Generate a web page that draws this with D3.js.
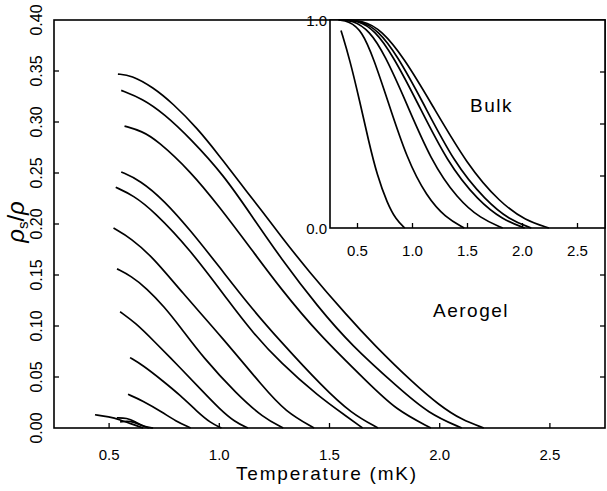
<!DOCTYPE html>
<html>
<head>
<meta charset="utf-8">
<script src="https://cdn.jsdelivr.net/npm/d3@7"></script>
<style>
  body { margin: 0; background: #fff; }
  svg { display: block; font-family: "Liberation Sans", Arial, sans-serif; }
</style>
</head>
<body>
<div id="graph"></div>
<script>
// aerogel curves, [T (mK), rho_s/rho]
const aerogel = [
  [[0.54,0.347],[0.6,0.346],[0.7,0.334],[0.79,0.318],[0.9,0.294],[1.0,0.267],[1.095,0.24],[1.2,0.211],[1.28,0.188],[1.4,0.155],[1.58,0.11],[1.7,0.082],[1.88,0.044],[2.0,0.022],[2.1,0.008],[2.2,0]],
  [[0.555,0.331],[0.65,0.323],[0.75,0.308],[0.868,0.284],[1.02,0.248],[1.15,0.207],[1.277,0.167],[1.45,0.118],[1.6,0.081],[1.81,0.04],[1.95,0.014],[2.1,0]],
  [[0.57,0.296],[0.65,0.291],[0.718,0.282],[0.868,0.252],[1.0,0.217],[1.15,0.174],[1.277,0.137],[1.45,0.092],[1.677,0.044],[1.8,0.018],[1.96,0]],
  [[0.555,0.251],[0.64,0.243],[0.75,0.223],[0.868,0.194],[1.0,0.158],[1.14,0.119],[1.277,0.085],[1.47,0.04],[1.6,0.014],[1.72,0]],
  [[0.53,0.236],[0.61,0.228],[0.7,0.213],[0.868,0.175],[1.05,0.122],[1.15,0.094],[1.277,0.064],[1.45,0.031],[1.58,0.011],[1.65,0]],
  [[0.52,0.196],[0.6,0.186],[0.7,0.167],[0.823,0.135],[1.02,0.087],[1.2,0.04],[1.3,0.016],[1.43,0]],
  [[0.536,0.156],[0.6,0.149],[0.67,0.137],[0.75,0.119],[0.823,0.099],[0.927,0.069],[1.08,0.033],[1.2,0.01],[1.29,0]],
  [[0.55,0.114],[0.62,0.103],[0.7,0.086],[0.823,0.059],[0.92,0.037],[1.0,0.019],[1.07,0.006],[1.13,0]],
  [[0.595,0.069],[0.65,0.062],[0.745,0.046],[0.823,0.032],[0.9,0.016],[0.96,0.005],[1.01,0]],
  [[0.586,0.033],[0.65,0.027],[0.745,0.015],[0.8,0.007],[0.87,0]],
  [[0.436,0.013],[0.5,0.011],[0.55,0.008],[0.6,0.004],[0.655,0]],
  [[0.535,0.01],[0.58,0.01],[0.62,0.006],[0.66,0.001],[0.7,0]],
  [[0.55,0.006],[0.6,0.007],[0.64,0.003],[0.68,0]]
];

// bulk curves for the inset
const bulk = [
  [[0.35,0.95],[0.43,0.81],[0.52,0.61],[0.6,0.42],[0.68,0.25],[0.77,0.12],[0.85,0.04],[0.93,0]],
  [[0.33,1.0],[0.42,0.995],[0.54,0.95],[0.65,0.81],[0.77,0.62],[0.95,0.33],[1.13,0.15],[1.3,0.05],[1.47,0]],
  [[0.33,1.0],[0.45,1.0],[0.61,0.95],[0.75,0.83],[0.93,0.62],[1.17,0.32],[1.41,0.14],[1.62,0.045],[1.82,0]],
  [[0.33,1.0],[0.5,1.0],[0.66,0.95],[0.82,0.83],[1.03,0.62],[1.32,0.31],[1.6,0.13],[1.82,0.04],[2.02,0]],
  [[0.33,1.0],[0.52,1.0],[0.69,0.95],[0.86,0.83],[1.08,0.62],[1.38,0.31],[1.67,0.13],[1.88,0.04],[2.08,0]],
  [[0.33,1.0],[0.55,1.0],[0.72,0.95],[0.92,0.82],[1.17,0.6],[1.5,0.3],[1.8,0.12],[2.03,0.035],[2.24,0]]
];

const xTicks = [0.5, 1.0, 1.5, 2.0, 2.5];
const yTicks = [0.00, 0.05, 0.10, 0.15, 0.20, 0.25, 0.30, 0.35, 0.40];
const insetYLabels = [0.0, 1.0];
const insetYTicks = [0.25, 0.5, 0.75];

const width = 607, height = 491;
const m = {left: 54, right: 605, top: 20, bottom: 428};
const inset = {left: 330, right: 605, top: 20, bottom: 228};

const x = d3.scaleLinear().domain([0.25, 2.75]).range([m.left, m.right]);
const y = d3.scaleLinear().domain([0, 0.40]).range([m.bottom, m.top]);
const xi = d3.scaleLinear().domain([0.25, 2.75]).range([inset.left, inset.right]);
const yi = d3.scaleLinear().domain([0, 1]).range([inset.bottom, inset.top]);

const svg = d3.select("#graph").append("svg")
    .attr("width", width)
    .attr("height", height);

svg.append("rect").attr("width", width).attr("height", height).attr("fill", "#fff");

const line = d3.line()
    .x(d => x(d[0]))
    .y(d => y(d[1]))
    .curve(d3.curveBasis);

svg.append("g")
    .attr("fill", "none")
    .attr("stroke", "#000")
    .attr("stroke-width", 1.7)
    .attr("stroke-linejoin", "round")
    .selectAll("path")
    .data(aerogel)
    .join("path")
    .attr("d", line);

// main frame
svg.append("rect")
    .attr("x", m.left).attr("y", m.top)
    .attr("width", m.right - m.left).attr("height", m.bottom - m.top)
    .attr("fill", "none").attr("stroke", "#000").attr("stroke-width", 1.6);

// inward ticks
svg.append("g").attr("stroke", "#000").attr("stroke-width", 1.3)
    .selectAll("line").data(xTicks).join("line")
    .attr("x1", d => x(d)).attr("x2", d => x(d))
    .attr("y1", m.bottom).attr("y2", m.bottom - 5);

svg.append("g").attr("stroke", "#000").attr("stroke-width", 1.3)
    .selectAll("line").data(yTicks.slice(1, -1)).join("line")
    .attr("x1", m.left).attr("x2", m.left + 5)
    .attr("y1", d => y(d)).attr("y2", d => y(d));

svg.append("g").attr("stroke", "#000").attr("stroke-width", 1.3)
    .selectAll("line").data(yTicks.slice(1, -1)).join("line")
    .attr("x1", m.right).attr("x2", m.right - 5)
    .attr("y1", d => y(d)).attr("y2", d => y(d));

// tick labels
svg.append("g")
    .attr("font-size", 15)
    .attr("text-anchor", "middle")
    .selectAll("text").data(xTicks).join("text")
    .attr("x", d => x(d))
    .attr("y", 460)
    .text(d => d.toFixed(1));

svg.append("g")
    .attr("font-size", 16)
    .attr("text-anchor", "middle")
    .selectAll("text").data(yTicks).join("text")
    .attr("transform", d => `translate(42,${y(d)}) rotate(-90)`)
    .text(d => d.toFixed(2));

svg.append("text")
    .attr("x", 327).attr("y", 480)
    .attr("font-size", 19)
    .attr("letter-spacing", 1.8)
    .attr("text-anchor", "middle")
    .text("Temperature (mK)");

const ylab = svg.append("text")
    .attr("transform", "translate(24,222) rotate(-90)")
    .attr("font-size", 24)
    .attr("text-anchor", "middle");
ylab.append("tspan").attr("font-style", "italic").text("ρ");
ylab.append("tspan").attr("font-size", 15).attr("dy", 4).text("s");
ylab.append("tspan").attr("dy", -4).text("/");
ylab.append("tspan").attr("font-style", "italic").text("ρ");

svg.append("text")
    .attr("x", 433).attr("y", 317)
    .attr("font-size", 19)
    .attr("letter-spacing", 1.5)
    .text("Aerogel");

// inset
const g = svg.append("g");
g.append("rect")
    .attr("x", inset.left).attr("y", inset.top)
    .attr("width", inset.right - inset.left).attr("height", inset.bottom - inset.top)
    .attr("fill", "#fff");

const lineInset = d3.line()
    .x(d => xi(d[0]))
    .y(d => yi(d[1]))
    .curve(d3.curveBasis);

g.append("g")
    .attr("fill", "none")
    .attr("stroke", "#000")
    .attr("stroke-width", 1.7)
    .selectAll("path")
    .data(bulk)
    .join("path")
    .attr("d", lineInset);

g.append("rect")
    .attr("x", inset.left).attr("y", inset.top)
    .attr("width", inset.right - inset.left).attr("height", inset.bottom - inset.top)
    .attr("fill", "none").attr("stroke", "#000").attr("stroke-width", 1.6);

g.append("g").attr("stroke", "#000").attr("stroke-width", 1.3)
    .selectAll("line").data(xTicks).join("line")
    .attr("x1", d => xi(d)).attr("x2", d => xi(d))
    .attr("y1", inset.bottom).attr("y2", inset.bottom - 5);

g.append("g").attr("stroke", "#000").attr("stroke-width", 1.3)
    .selectAll("line").data(insetYTicks).join("line")
    .attr("x1", inset.right).attr("x2", inset.right - 5)
    .attr("y1", d => yi(d)).attr("y2", d => yi(d));

g.append("g")
    .attr("font-size", 15)
    .attr("text-anchor", "middle")
    .selectAll("text").data(xTicks).join("text")
    .attr("x", d => xi(d))
    .attr("y", 256)
    .text(d => d.toFixed(1));

g.append("g")
    .attr("font-size", 15)
    .attr("text-anchor", "end")
    .selectAll("text").data(insetYLabels).join("text")
    .attr("x", 327)
    .attr("y", d => yi(d) + 6)
    .text(d => d.toFixed(1));

g.append("text")
    .attr("x", 470).attr("y", 112)
    .attr("font-size", 19)
    .attr("letter-spacing", 1.5)
    .text("Bulk");
</script>
</body>
</html>
